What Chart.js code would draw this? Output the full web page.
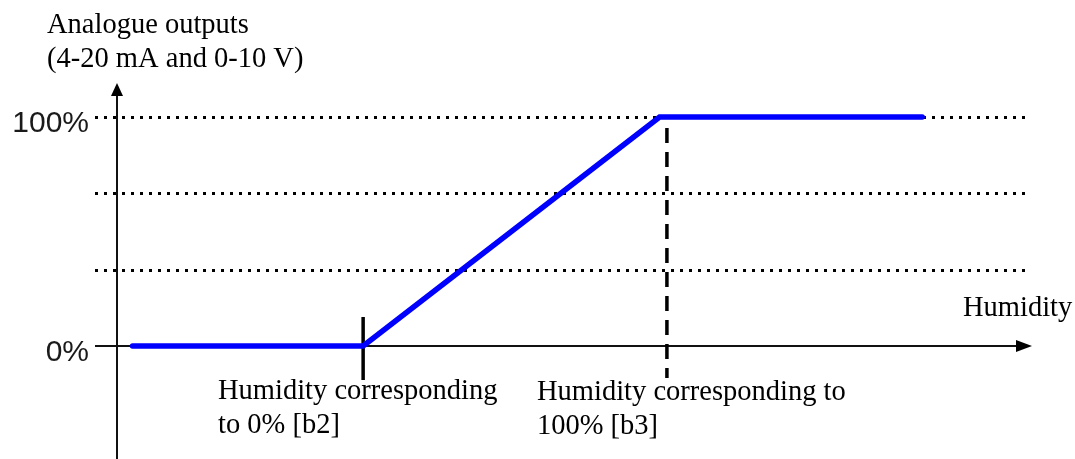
<!DOCTYPE html>
<html><head><meta charset="utf-8">
<script src="https://cdn.jsdelivr.net/npm/chart.js@4/dist/chart.umd.min.js"></script>
<style>html,body{margin:0;padding:0;background:#fff;}</style>
</head><body>
<canvas id="c" width="1075" height="459"></canvas>
<script>
// Data (humidity axis 0..100 units across the plotted x range, output in %)
const outputX = [1.7, 26.9, 59.3, 88.0];
const outputY = [0, 0, 100, 100];
const b2X = [26.9, 26.9];
const b2Y = [12.7, -14.8];
const b3X = [60.1, 60.1];
const b3Y = [95.2, -14.0];
const gridLevels = [100, 66.7, 33.3];
const tickValues = [0, 100];
const tickLabels = ['0%', '100%'];
const yTitle = ['Analogue outputs', '(4-20 mA and 0-10 V)'];
const xTitle = 'Humidity';
const b2Label = ['Humidity corresponding', 'to 0% [b2]'];
const b3Label = ['Humidity corresponding to', '100% [b3]'];

const toPts = (xs, ys) => xs.map((v, i) => ({x: v, y: ys[i]}));

const decor = {
  id: 'decor',
  beforeDatasetsDraw(chart) {
    const {ctx, chartArea: ca, scales: {x, y}} = chart;
    const x0 = x.getPixelForValue(0);
    const y0 = y.getPixelForValue(0);
    ctx.save();
    // dotted grid lines
    ctx.strokeStyle = '#000';
    ctx.lineWidth = 3;
    ctx.setLineDash([3, 6]);
    gridLevels.forEach(v => {
      const py = Math.round(y.getPixelForValue(v)) + 0.5;
      ctx.beginPath(); ctx.moveTo(95, py); ctx.lineTo(1030, py); ctx.stroke();
    });
    ctx.setLineDash([]);
    // axes
    ctx.lineWidth = 2;
    ctx.strokeStyle = '#111';
    ctx.beginPath(); ctx.moveTo(x0, chart.height); ctx.lineTo(x0, ca.top + 10); ctx.stroke();
    ctx.beginPath(); ctx.moveTo(95, y0); ctx.lineTo(ca.right - 10, y0); ctx.stroke();
    ctx.fillStyle = '#000';
    ctx.beginPath(); ctx.moveTo(x0, ca.top); ctx.lineTo(x0 - 6, ca.top + 13); ctx.lineTo(x0 + 6, ca.top + 13); ctx.closePath(); ctx.fill();
    ctx.beginPath(); ctx.moveTo(ca.right, y0); ctx.lineTo(ca.right - 16, y0 - 6); ctx.lineTo(ca.right - 16, y0 + 6); ctx.closePath(); ctx.fill();
    ctx.restore();
  },
  afterDraw(chart) {
    const {ctx, scales: {x, y}} = chart;
    ctx.save();
    ctx.fillStyle = '#1a1a1a';
    ctx.font = '30px "Liberation Sans", Arial, sans-serif';
    ctx.textAlign = 'right';
    ctx.textBaseline = 'alphabetic';
    tickValues.forEach((v, i) => {
      ctx.fillText(tickLabels[i], 89, y.getPixelForValue(v) + 15);
    });
    ctx.fillStyle = '#000';
    ctx.font = '28.5px "Liberation Serif", "Times New Roman", serif';
    ctx.textAlign = 'left';
    ctx.fillText(yTitle[0], 47, 33);
    ctx.fillText(yTitle[1], 47, 67);
    ctx.fillText(xTitle, 963, 316);
    ctx.fillText(b2Label[0], 218, 399);
    ctx.fillText(b2Label[1], 218, 433);
    ctx.fillText(b3Label[0], 537, 400);
    ctx.fillText(b3Label[1], 537, 434);
    ctx.restore();
  }
};

new Chart(document.getElementById('c'), {
  type: 'line',
  data: {
    datasets: [
      {data: toPts(outputX, outputY), borderColor: '#0000ff', borderWidth: 5.5, pointRadius: 0, borderCapStyle: 'round', borderJoinStyle: 'miter', tension: 0},
      {data: toPts(b2X, b2Y), borderColor: '#000', borderWidth: 3.5, pointRadius: 0},
      {data: toPts(b3X, b3Y), borderColor: '#000', borderWidth: 3.5, pointRadius: 0, borderDash: [15, 9]}
    ]
  },
  options: {
    responsive: false,
    animation: false,
    layout: {padding: {left: 117, right: 43, top: 83, bottom: 0}},
    scales: {
      x: {type: 'linear', min: 0, max: 100, display: false},
      y: {type: 'linear', min: -49.34, max: 114.85, display: false}
    },
    plugins: {legend: {display: false}, tooltip: {enabled: false}}
  },
  plugins: [decor]
});
</script>
</body></html>
